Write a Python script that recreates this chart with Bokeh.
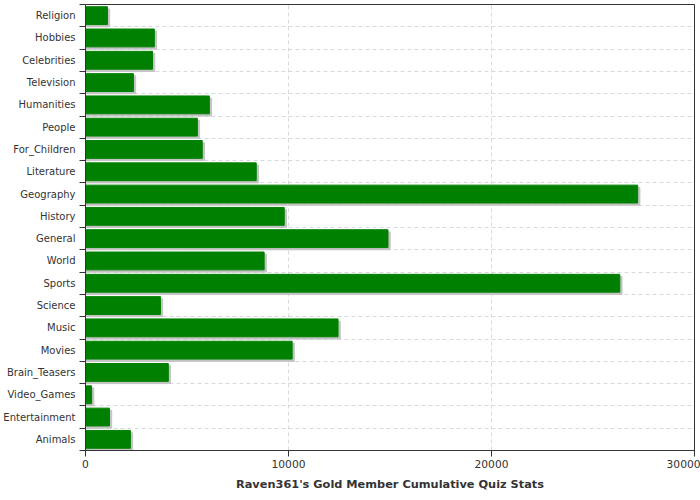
from bokeh.plotting import figure
from bokeh.models import FixedTicker, Range1d, ColumnDataSource
from bokeh.embed import file_html
from bokeh.resources import INLINE

categories = ["Religion", "Hobbies", "Celebrities", "Television", "Humanities", "People",
              "For_Children", "Literature", "Geography", "History", "General", "World",
              "Sports", "Science", "Music", "Movies", "Brain_Teasers", "Video_Games",
              "Entertainment", "Animals"]
values = [1080, 3390, 3300, 2360, 6100, 5510, 5750, 8410, 27200, 9790, 14900, 8800,
          26320, 3690, 12440, 10180, 4080, 300, 1180, 2210]
x_ticks = [0, 10000, 20000, 30000]

n = len(categories)
ypos = [n - 1 - i for i in range(n)]
src = ColumnDataSource(dict(y=ypos, v=values, ys=[y - 0.1 for y in ypos],
                            vs=[v + 110 for v in values]))

p = figure(width=700, height=500, output_backend="svg", toolbar_location=None,
           x_range=Range1d(0, 30000), y_range=Range1d(-0.5, n - 0.5),
           min_border_left=84, min_border_right=6, min_border_top=4, min_border_bottom=50)

p.hbar(y="ys", left=0, right="vs", height=0.8, source=src, color="#c4c4c4")
p.hbar(y="y", left=0, right="v", height=0.8, source=src, color="#008000")

p.outline_line_color = "#333333"
p.outline_line_width = 1

# x axis
p.xaxis.ticker = FixedTicker(ticks=x_ticks)
p.xaxis.minor_tick_line_color = None
p.xaxis.major_tick_out = 6
p.xaxis.major_tick_in = 0
p.xaxis.major_label_text_font = "DejaVu Sans"
p.xaxis.major_label_text_font_size = "8pt"
p.xaxis.major_label_text_color = "#333333"
p.xaxis.major_label_standoff = 3
p.xaxis.axis_line_color = "#333333"
p.xaxis.major_tick_line_color = "#333333"
p.xaxis.axis_label = "Raven361's Gold Member Cumulative Quiz Stats"
p.xaxis.axis_label_text_font = "DejaVu Sans"
p.xaxis.axis_label_text_font_size = "8.5pt"
p.xaxis.axis_label_text_font_style = "bold"
p.xaxis.axis_label_text_color = "#333333"
p.xaxis.axis_label_standoff = 6

# y axis
centers = list(range(n))
bounds = [i - 0.5 for i in range(n + 1)]
p.yaxis.ticker = FixedTicker(ticks=centers, minor_ticks=bounds)
p.yaxis.major_label_overrides = {y: c for y, c in zip(ypos, categories)}
p.yaxis.major_tick_out = 0
p.yaxis.major_tick_in = 0
p.yaxis.minor_tick_out = 6
p.yaxis.minor_tick_in = 0
p.yaxis.minor_tick_line_color = "#333333"
p.yaxis.axis_line_color = "#333333"
p.yaxis.major_label_text_font = "DejaVu Sans"
p.yaxis.major_label_text_font_size = "7.5pt"
p.yaxis.major_label_text_color = "#333333"
p.yaxis.major_label_standoff = 4

# grids
p.ygrid.ticker = FixedTicker(ticks=bounds[1:-1])
p.ygrid.grid_line_color = "#d5dadd"
p.ygrid.grid_line_dash = "4 3"
p.xgrid.ticker = FixedTicker(ticks=[10000, 20000])
p.xgrid.grid_line_color = "#d5dadd"
p.xgrid.grid_line_dash = "4 3"

p.background_fill_color = "white"
p.border_fill_color = "white"

open("out.html", "w").write(file_html(p, INLINE))
